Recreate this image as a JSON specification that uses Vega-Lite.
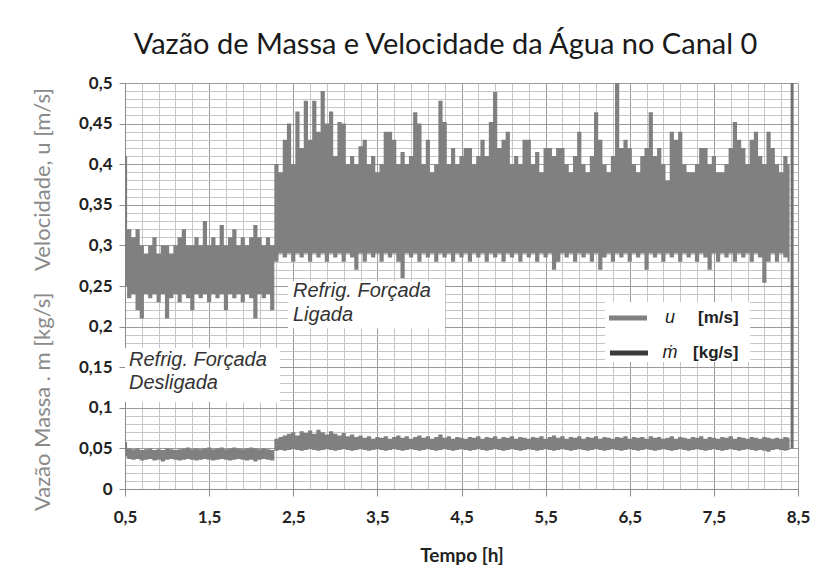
{
"$schema": "https://vega.github.io/schema/vega-lite/v6.json",
"autosize": "none",
"width": 673,
"height": 406,
"padding": {"left": 125, "top": 83, "right": 17, "bottom": 93},
"background": "white",
"config": {"view": {"stroke": null}, "font": "Lato"},
"title": {"text": "Vazão de Massa e Velocidade da Água no Canal 0", "font": "Lato", "fontSize": 29, "fontWeight": "normal", "color": "#1a1a1a", "anchor": "middle", "dx": -16, "offset": 14},
"datasets": {
"sig": [
{"t":0.50,"ul":0.25,"uh":0.41,"ml":0.040,"mh":0.058},
{"t":0.55,"ul":0.235,"uh":0.32,"ml":0.037,"mh":0.050},
{"t":0.60,"ul":0.24,"uh":0.31,"ml":0.036,"mh":0.049},
{"t":0.65,"ul":0.22,"uh":0.32,"ml":0.037,"mh":0.050},
{"t":0.70,"ul":0.21,"uh":0.30,"ml":0.035,"mh":0.048},
{"t":0.75,"ul":0.24,"uh":0.29,"ml":0.036,"mh":0.049},
{"t":0.80,"ul":0.235,"uh":0.30,"ml":0.037,"mh":0.050},
{"t":0.85,"ul":0.24,"uh":0.31,"ml":0.035,"mh":0.048},
{"t":0.90,"ul":0.23,"uh":0.29,"ml":0.036,"mh":0.049},
{"t":0.95,"ul":0.24,"uh":0.30,"ml":0.034,"mh":0.048},
{"t":1.00,"ul":0.21,"uh":0.30,"ml":0.036,"mh":0.050},
{"t":1.05,"ul":0.235,"uh":0.29,"ml":0.037,"mh":0.049},
{"t":1.10,"ul":0.24,"uh":0.30,"ml":0.036,"mh":0.048},
{"t":1.15,"ul":0.23,"uh":0.31,"ml":0.035,"mh":0.049},
{"t":1.20,"ul":0.24,"uh":0.32,"ml":0.036,"mh":0.050},
{"t":1.25,"ul":0.235,"uh":0.30,"ml":0.037,"mh":0.051},
{"t":1.30,"ul":0.22,"uh":0.30,"ml":0.036,"mh":0.049},
{"t":1.35,"ul":0.24,"uh":0.31,"ml":0.035,"mh":0.050},
{"t":1.40,"ul":0.235,"uh":0.30,"ml":0.036,"mh":0.049},
{"t":1.45,"ul":0.24,"uh":0.33,"ml":0.037,"mh":0.050},
{"t":1.50,"ul":0.23,"uh":0.30,"ml":0.036,"mh":0.051},
{"t":1.55,"ul":0.24,"uh":0.31,"ml":0.035,"mh":0.049},
{"t":1.60,"ul":0.235,"uh":0.30,"ml":0.036,"mh":0.050},
{"t":1.65,"ul":0.24,"uh":0.325,"ml":0.037,"mh":0.051},
{"t":1.70,"ul":0.22,"uh":0.30,"ml":0.036,"mh":0.049},
{"t":1.75,"ul":0.24,"uh":0.31,"ml":0.035,"mh":0.050},
{"t":1.80,"ul":0.235,"uh":0.32,"ml":0.036,"mh":0.051},
{"t":1.85,"ul":0.24,"uh":0.30,"ml":0.037,"mh":0.050},
{"t":1.90,"ul":0.23,"uh":0.31,"ml":0.036,"mh":0.049},
{"t":1.95,"ul":0.24,"uh":0.30,"ml":0.035,"mh":0.050},
{"t":2.00,"ul":0.235,"uh":0.31,"ml":0.036,"mh":0.051},
{"t":2.05,"ul":0.21,"uh":0.325,"ml":0.034,"mh":0.050},
{"t":2.10,"ul":0.24,"uh":0.31,"ml":0.036,"mh":0.049},
{"t":2.15,"ul":0.235,"uh":0.30,"ml":0.037,"mh":0.050},
{"t":2.20,"ul":0.24,"uh":0.31,"ml":0.036,"mh":0.049},
{"t":2.25,"ul":0.22,"uh":0.30,"ml":0.035,"mh":0.048},
{"t":2.30,"ul":0.28,"uh":0.40,"ml":0.047,"mh":0.062},
{"t":2.35,"ul":0.29,"uh":0.39,"ml":0.048,"mh":0.064},
{"t":2.40,"ul":0.285,"uh":0.43,"ml":0.047,"mh":0.066},
{"t":2.45,"ul":0.29,"uh":0.45,"ml":0.048,"mh":0.068},
{"t":2.50,"ul":0.28,"uh":0.40,"ml":0.049,"mh":0.070},
{"t":2.55,"ul":0.29,"uh":0.465,"ml":0.048,"mh":0.066},
{"t":2.60,"ul":0.285,"uh":0.42,"ml":0.047,"mh":0.071},
{"t":2.65,"ul":0.29,"uh":0.478,"ml":0.048,"mh":0.069},
{"t":2.70,"ul":0.28,"uh":0.43,"ml":0.049,"mh":0.072},
{"t":2.75,"ul":0.29,"uh":0.478,"ml":0.048,"mh":0.068},
{"t":2.80,"ul":0.285,"uh":0.44,"ml":0.047,"mh":0.073},
{"t":2.85,"ul":0.29,"uh":0.49,"ml":0.048,"mh":0.070},
{"t":2.90,"ul":0.28,"uh":0.45,"ml":0.049,"mh":0.067},
{"t":2.95,"ul":0.29,"uh":0.465,"ml":0.048,"mh":0.071},
{"t":3.00,"ul":0.285,"uh":0.41,"ml":0.047,"mh":0.068},
{"t":3.05,"ul":0.29,"uh":0.452,"ml":0.048,"mh":0.066},
{"t":3.10,"ul":0.28,"uh":0.45,"ml":0.049,"mh":0.069},
{"t":3.15,"ul":0.29,"uh":0.40,"ml":0.048,"mh":0.065},
{"t":3.20,"ul":0.285,"uh":0.41,"ml":0.047,"mh":0.067},
{"t":3.25,"ul":0.27,"uh":0.40,"ml":0.048,"mh":0.064},
{"t":3.30,"ul":0.29,"uh":0.422,"ml":0.049,"mh":0.066},
{"t":3.35,"ul":0.28,"uh":0.43,"ml":0.048,"mh":0.063},
{"t":3.40,"ul":0.29,"uh":0.40,"ml":0.047,"mh":0.065},
{"t":3.45,"ul":0.285,"uh":0.41,"ml":0.048,"mh":0.062},
{"t":3.50,"ul":0.29,"uh":0.39,"ml":0.049,"mh":0.064},
{"t":3.55,"ul":0.28,"uh":0.40,"ml":0.048,"mh":0.063},
{"t":3.60,"ul":0.29,"uh":0.44,"ml":0.047,"mh":0.065},
{"t":3.65,"ul":0.285,"uh":0.44,"ml":0.048,"mh":0.062},
{"t":3.70,"ul":0.29,"uh":0.43,"ml":0.049,"mh":0.064},
{"t":3.75,"ul":0.28,"uh":0.40,"ml":0.048,"mh":0.066},
{"t":3.80,"ul":0.26,"uh":0.415,"ml":0.047,"mh":0.063},
{"t":3.85,"ul":0.29,"uh":0.40,"ml":0.048,"mh":0.065},
{"t":3.90,"ul":0.285,"uh":0.41,"ml":0.049,"mh":0.062},
{"t":3.95,"ul":0.29,"uh":0.464,"ml":0.048,"mh":0.064},
{"t":4.00,"ul":0.28,"uh":0.45,"ml":0.047,"mh":0.066},
{"t":4.05,"ul":0.29,"uh":0.40,"ml":0.048,"mh":0.063},
{"t":4.10,"ul":0.285,"uh":0.43,"ml":0.049,"mh":0.065},
{"t":4.15,"ul":0.29,"uh":0.39,"ml":0.048,"mh":0.062},
{"t":4.20,"ul":0.28,"uh":0.40,"ml":0.047,"mh":0.064},
{"t":4.25,"ul":0.29,"uh":0.478,"ml":0.048,"mh":0.067},
{"t":4.30,"ul":0.285,"uh":0.452,"ml":0.049,"mh":0.063},
{"t":4.35,"ul":0.29,"uh":0.40,"ml":0.048,"mh":0.065},
{"t":4.40,"ul":0.28,"uh":0.42,"ml":0.047,"mh":0.062},
{"t":4.45,"ul":0.29,"uh":0.40,"ml":0.048,"mh":0.064},
{"t":4.50,"ul":0.285,"uh":0.41,"ml":0.049,"mh":0.063},
{"t":4.55,"ul":0.29,"uh":0.42,"ml":0.048,"mh":0.062},
{"t":4.60,"ul":0.28,"uh":0.42,"ml":0.047,"mh":0.064},
{"t":4.65,"ul":0.29,"uh":0.40,"ml":0.048,"mh":0.063},
{"t":4.70,"ul":0.285,"uh":0.41,"ml":0.049,"mh":0.065},
{"t":4.75,"ul":0.29,"uh":0.43,"ml":0.048,"mh":0.062},
{"t":4.80,"ul":0.28,"uh":0.41,"ml":0.047,"mh":0.064},
{"t":4.85,"ul":0.29,"uh":0.452,"ml":0.048,"mh":0.063},
{"t":4.90,"ul":0.285,"uh":0.489,"ml":0.049,"mh":0.065},
{"t":4.95,"ul":0.29,"uh":0.42,"ml":0.048,"mh":0.062},
{"t":5.00,"ul":0.28,"uh":0.43,"ml":0.047,"mh":0.064},
{"t":5.05,"ul":0.29,"uh":0.44,"ml":0.048,"mh":0.063},
{"t":5.10,"ul":0.285,"uh":0.40,"ml":0.049,"mh":0.065},
{"t":5.15,"ul":0.29,"uh":0.41,"ml":0.048,"mh":0.062},
{"t":5.20,"ul":0.28,"uh":0.40,"ml":0.047,"mh":0.064},
{"t":5.25,"ul":0.29,"uh":0.43,"ml":0.048,"mh":0.063},
{"t":5.30,"ul":0.285,"uh":0.43,"ml":0.049,"mh":0.062},
{"t":5.35,"ul":0.29,"uh":0.40,"ml":0.048,"mh":0.064},
{"t":5.40,"ul":0.28,"uh":0.415,"ml":0.047,"mh":0.063},
{"t":5.45,"ul":0.29,"uh":0.39,"ml":0.048,"mh":0.065},
{"t":5.50,"ul":0.285,"uh":0.42,"ml":0.049,"mh":0.062},
{"t":5.55,"ul":0.29,"uh":0.42,"ml":0.048,"mh":0.064},
{"t":5.60,"ul":0.27,"uh":0.41,"ml":0.047,"mh":0.066},
{"t":5.65,"ul":0.28,"uh":0.42,"ml":0.048,"mh":0.063},
{"t":5.70,"ul":0.29,"uh":0.42,"ml":0.049,"mh":0.065},
{"t":5.75,"ul":0.285,"uh":0.40,"ml":0.048,"mh":0.062},
{"t":5.80,"ul":0.29,"uh":0.39,"ml":0.047,"mh":0.064},
{"t":5.85,"ul":0.28,"uh":0.41,"ml":0.048,"mh":0.063},
{"t":5.90,"ul":0.29,"uh":0.44,"ml":0.049,"mh":0.065},
{"t":5.95,"ul":0.285,"uh":0.40,"ml":0.048,"mh":0.062},
{"t":6.00,"ul":0.29,"uh":0.39,"ml":0.047,"mh":0.064},
{"t":6.05,"ul":0.28,"uh":0.41,"ml":0.048,"mh":0.063},
{"t":6.10,"ul":0.29,"uh":0.464,"ml":0.049,"mh":0.065},
{"t":6.15,"ul":0.27,"uh":0.43,"ml":0.048,"mh":0.062},
{"t":6.20,"ul":0.285,"uh":0.40,"ml":0.047,"mh":0.064},
{"t":6.25,"ul":0.29,"uh":0.39,"ml":0.048,"mh":0.063},
{"t":6.30,"ul":0.28,"uh":0.41,"ml":0.049,"mh":0.062},
{"t":6.35,"ul":0.29,"uh":0.50,"ml":0.048,"mh":0.064},
{"t":6.40,"ul":0.285,"uh":0.42,"ml":0.047,"mh":0.063},
{"t":6.45,"ul":0.29,"uh":0.43,"ml":0.048,"mh":0.065},
{"t":6.50,"ul":0.28,"uh":0.42,"ml":0.049,"mh":0.062},
{"t":6.55,"ul":0.29,"uh":0.40,"ml":0.048,"mh":0.064},
{"t":6.60,"ul":0.285,"uh":0.39,"ml":0.047,"mh":0.063},
{"t":6.65,"ul":0.29,"uh":0.41,"ml":0.048,"mh":0.064},
{"t":6.70,"ul":0.27,"uh":0.42,"ml":0.049,"mh":0.062},
{"t":6.75,"ul":0.29,"uh":0.464,"ml":0.048,"mh":0.065},
{"t":6.80,"ul":0.285,"uh":0.41,"ml":0.047,"mh":0.063},
{"t":6.85,"ul":0.29,"uh":0.42,"ml":0.048,"mh":0.064},
{"t":6.90,"ul":0.28,"uh":0.40,"ml":0.049,"mh":0.062},
{"t":6.95,"ul":0.29,"uh":0.38,"ml":0.048,"mh":0.063},
{"t":7.00,"ul":0.285,"uh":0.44,"ml":0.047,"mh":0.065},
{"t":7.05,"ul":0.29,"uh":0.43,"ml":0.048,"mh":0.062},
{"t":7.10,"ul":0.28,"uh":0.44,"ml":0.049,"mh":0.064},
{"t":7.15,"ul":0.29,"uh":0.40,"ml":0.048,"mh":0.063},
{"t":7.20,"ul":0.285,"uh":0.39,"ml":0.047,"mh":0.062},
{"t":7.25,"ul":0.29,"uh":0.39,"ml":0.048,"mh":0.064},
{"t":7.30,"ul":0.28,"uh":0.40,"ml":0.049,"mh":0.063},
{"t":7.35,"ul":0.29,"uh":0.42,"ml":0.048,"mh":0.065},
{"t":7.40,"ul":0.285,"uh":0.42,"ml":0.047,"mh":0.062},
{"t":7.45,"ul":0.27,"uh":0.40,"ml":0.048,"mh":0.064},
{"t":7.50,"ul":0.29,"uh":0.41,"ml":0.049,"mh":0.063},
{"t":7.55,"ul":0.28,"uh":0.39,"ml":0.048,"mh":0.062},
{"t":7.60,"ul":0.29,"uh":0.39,"ml":0.047,"mh":0.064},
{"t":7.65,"ul":0.285,"uh":0.40,"ml":0.048,"mh":0.063},
{"t":7.70,"ul":0.29,"uh":0.42,"ml":0.049,"mh":0.065},
{"t":7.75,"ul":0.28,"uh":0.452,"ml":0.048,"mh":0.062},
{"t":7.80,"ul":0.29,"uh":0.43,"ml":0.047,"mh":0.064},
{"t":7.85,"ul":0.285,"uh":0.42,"ml":0.048,"mh":0.063},
{"t":7.90,"ul":0.29,"uh":0.40,"ml":0.049,"mh":0.062},
{"t":7.95,"ul":0.28,"uh":0.43,"ml":0.048,"mh":0.064},
{"t":8.00,"ul":0.29,"uh":0.44,"ml":0.047,"mh":0.063},
{"t":8.05,"ul":0.285,"uh":0.41,"ml":0.048,"mh":0.062},
{"t":8.10,"ul":0.254,"uh":0.40,"ml":0.047,"mh":0.064},
{"t":8.15,"ul":0.28,"uh":0.44,"ml":0.046,"mh":0.063},
{"t":8.20,"ul":0.29,"uh":0.42,"ml":0.048,"mh":0.062},
{"t":8.25,"ul":0.28,"uh":0.40,"ml":0.049,"mh":0.063},
{"t":8.30,"ul":0.29,"uh":0.39,"ml":0.048,"mh":0.062},
{"t":8.35,"ul":0.285,"uh":0.41,"ml":0.047,"mh":0.064},
{"t":8.40,"ul":0.28,"uh":0.40,"ml":0.048,"mh":0.063}
],
"jump": [{"t": 8.43, "lo": 0.05, "hi": 0.5}]
},
"layer": [
{
"data": {"name": "sig"},
"mark": {"type": "area", "interpolate": "step", "color": "#808080", "clip": true},
"encoding": {
"x": {"field": "t", "type": "quantitative", "scale": {"domain": [0.5, 8.5], "nice": false, "zero": false},
"axis": {"title": "Tempo [h]", "values": [0.5,0.7,0.9,1.1,1.3,1.5,1.7,1.9,2.1,2.3,2.5,2.7,2.9,3.1,3.3,3.5,3.7,3.9,4.1,4.3,4.5,4.7,4.9,5.1,5.3,5.5,5.7,5.9,6.1,6.3,6.5,6.7,6.9,7.1,7.3,7.5,7.7,7.9,8.1,8.3,8.5],
"tickCount": 200,
"labelExpr": "abs((datum.value-0.5)-round(datum.value-0.5))<0.01 ? replace(format(datum.value,'.1f'),'.',',') : ''",
"labelOverlap": false, "labelFlush": false, "labelFont": "Lato", "labelFontWeight": "bold", "labelFontSize": 17, "labelColor": "#222222", "labelPadding": 13,
"tickSize": 7, "tickColor": {"condition": {"test": "abs((datum.value-0.5)-round(datum.value-0.5))<0.01", "value": "#8c8c8c"}, "value": "rgba(0,0,0,0)"},
"grid": true, "gridColor": {"condition": {"test": "abs((datum.value-0.5)-round(datum.value-0.5))<0.01", "value": "#9a9a9a"}, "value": "#c6c6c6"},
"domainColor": "#8c8c8c", "titleFont": "Lato", "titleFontWeight": "bold", "titleFontSize": 19, "titleColor": "#222222", "titlePadding": 21}},
"y": {"field": "ul", "type": "quantitative", "scale": {"domain": [0, 0.5], "nice": false},
"axis": {"title": "Vazão Massa . m [kg/s]\u00a0\u00a0\u00a0 Velocidade, u [m/s]", "values": [0,0.01,0.02,0.03,0.04,0.05,0.06,0.07,0.08,0.09,0.1,0.11,0.12,0.13,0.14,0.15,0.16,0.17,0.18,0.19,0.2,0.21,0.22,0.23,0.24,0.25,0.26,0.27,0.28,0.29,0.3,0.31,0.32,0.33,0.34,0.35,0.36,0.37,0.38,0.39,0.4,0.41,0.42,0.43,0.44,0.45,0.46,0.47,0.48,0.49,0.5],
"tickCount": 200,
"labelExpr": "abs(datum.value*20-round(datum.value*20))<0.01 ? replace(format(datum.value,'~g'),'.',',') : ''",
"labelOverlap": false, "labelFlush": false, "labelFont": "Lato", "labelFontWeight": "bold", "labelFontSize": 17, "labelColor": "#222222", "labelPadding": 7,
"tickSize": 6, "tickColor": {"condition": {"test": "abs(datum.value*20-round(datum.value*20))<0.01", "value": "#8c8c8c"}, "value": "rgba(0,0,0,0)"},
"grid": true, "gridColor": {"condition": {"test": "abs(datum.value*20-round(datum.value*20))<0.01", "value": "#9a9a9a"}, "value": "#c6c6c6"},
"domainColor": "#8c8c8c", "titleFont": "Lato", "titleFontWeight": "normal", "titleFontSize": 22, "titleColor": "#8a8a8a",
"titleAngle": 270, "titleX": -83, "titleY": 216, "titleAlign": "center", "titleBaseline": "middle"}},
"y2": {"field": "uh"}
}
},
{
"data": {"name": "sig"},
"mark": {"type": "area", "interpolate": "step", "color": "#808080", "clip": true},
"encoding": {
"x": {"field": "t", "type": "quantitative"},
"y": {"field": "ml", "type": "quantitative"},
"y2": {"field": "mh"}
}
},
{
"data": {"name": "jump"},
"mark": {"type": "rule", "color": "#707070", "strokeWidth": 3, "clip": true},
"encoding": {
"x": {"field": "t", "type": "quantitative"},
"y": {"field": "lo", "type": "quantitative"},
"y2": {"field": "hi"}
}
},
{
"data": {"values": [{}]},
"mark": {"type": "rect", "color": "white"},
"encoding": {"x": {"datum": 2.438, "type": "quantitative"}, "x2": {"datum": 4.304}, "y": {"datum": 0.256, "type": "quantitative"}, "y2": {"datum": 0.198}}
},
{
"data": {"values": [{}]},
"mark": {"type": "rect", "color": "white"},
"encoding": {"x": {"datum": 0.5, "type": "quantitative"}, "x2": {"datum": 2.342}, "y": {"datum": 0.1736, "type": "quantitative"}, "y2": {"datum": 0.107}}
},
{
"data": {"values": [{}]},
"mark": {"type": "rect", "color": "white"},
"encoding": {"x": {"datum": 6.206, "type": "quantitative"}, "x2": {"datum": 7.93}, "y": {"datum": 0.2303, "type": "quantitative"}, "y2": {"datum": 0.1564}}
},
{
"data": {"values": [{}]},
"mark": {"type": "text", "text": ["Refrig. Forçada", "Ligada"], "lineHeight": 24, "font": "Liberation Sans", "fontStyle": "italic", "fontSize": 20, "color": "#333333", "align": "left", "baseline": "top"},
"encoding": {"x": {"datum": 2.497, "type": "quantitative"}, "y": {"datum": 0.2557, "type": "quantitative"}}
},
{
"data": {"values": [{}]},
"mark": {"type": "text", "text": ["Refrig. Forçada", "Desligada"], "lineHeight": 23, "font": "Liberation Sans", "fontStyle": "italic", "fontSize": 20, "color": "#333333", "align": "left", "baseline": "top"},
"encoding": {"x": {"datum": 0.548, "type": "quantitative"}, "y": {"datum": 0.171, "type": "quantitative"}}
},
{
"data": {"values": [{}]},
"mark": {"type": "rule", "color": "#808080", "strokeWidth": 5},
"encoding": {"x": {"datum": 6.253, "type": "quantitative"}, "x2": {"datum": 6.705}, "y": {"datum": 0.2106, "type": "quantitative"}}
},
{
"data": {"values": [{}]},
"mark": {"type": "rule", "color": "#3a3a3a", "strokeWidth": 5},
"encoding": {"x": {"datum": 6.265, "type": "quantitative"}, "x2": {"datum": 6.717}, "y": {"datum": 0.1675, "type": "quantitative"}}
},
{
"data": {"values": [{}]},
"mark": {"type": "text", "text": "u", "font": "Liberation Sans", "fontStyle": "italic", "fontSize": 18, "color": "#222222", "align": "center", "baseline": "middle"},
"encoding": {"x": {"datum": 6.978, "type": "quantitative"}, "y": {"datum": 0.2106, "type": "quantitative"}}
},
{
"data": {"values": [{}]},
"mark": {"type": "text", "text": "ṁ", "font": "Liberation Sans", "fontStyle": "italic", "fontSize": 18, "color": "#222222", "align": "center", "baseline": "middle"},
"encoding": {"x": {"datum": 6.978, "type": "quantitative"}, "y": {"datum": 0.1675, "type": "quantitative"}}
},
{
"data": {"values": [{}]},
"mark": {"type": "text", "text": "[m/s]", "font": "Liberation Sans", "fontWeight": "bold", "fontSize": 17, "color": "#222222", "align": "left", "baseline": "middle"},
"encoding": {"x": {"datum": 7.311, "type": "quantitative"}, "y": {"datum": 0.2106, "type": "quantitative"}}
},
{
"data": {"values": [{}]},
"mark": {"type": "text", "text": "[kg/s]", "font": "Liberation Sans", "fontWeight": "bold", "fontSize": 17, "color": "#222222", "align": "left", "baseline": "middle"},
"encoding": {"x": {"datum": 7.252, "type": "quantitative"}, "y": {"datum": 0.1675, "type": "quantitative"}}
}
]
}
